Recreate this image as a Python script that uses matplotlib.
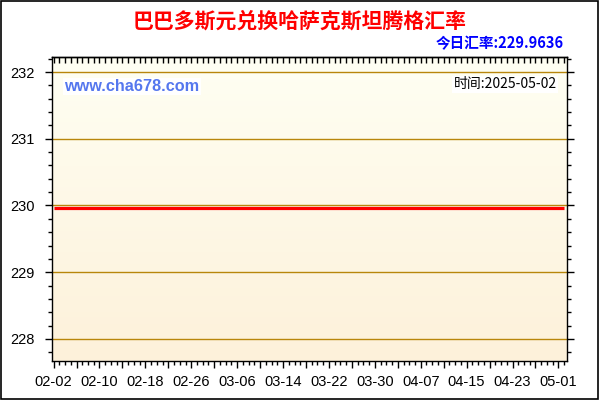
import numpy as np
import pandas as pd
import matplotlib
matplotlib.use('Agg')
import matplotlib.pyplot as plt
import matplotlib.dates as mdates
from matplotlib.colors import LinearSegmentedColormap
from matplotlib.patches import Rectangle

plt.rcParams['font.family'] = ['Noto Sans CJK SC', 'DejaVu Sans']

# Dados da série (taxa praticamente constante no período)
datas = ['2025-02-02', '2025-02-10', '2025-02-18', '2025-02-26', '2025-03-06',
         '2025-03-14', '2025-03-22', '2025-03-30', '2025-04-07', '2025-04-15',
         '2025-04-23', '2025-05-01', '2025-05-02']
taxas = [229.9636, 229.9636, 229.9636, 229.9636, 229.9636,
         229.9636, 229.9636, 229.9636, 229.9636, 229.9636,
         229.9636, 229.9636, 229.9636]
titulo = '巴巴多斯元兑换哈萨克斯坦腾格汇率'
taxa_hoje = '今日汇率:229.9636'
data_hoje = '时间:2025-05-02'
site = 'www.cha678.com'
y_ticks = [228, 229, 230, 231, 232]

x = pd.to_datetime(datas)

fig = plt.figure(figsize=(6, 4), dpi=100)
ax = fig.add_axes([0.086, 0.0975, 0.859, 0.76])

x0 = mdates.date2num(pd.Timestamp('2025-02-02')) - 0.35
x1 = mdates.date2num(pd.Timestamp('2025-05-02')) + 0.5
y0, y1 = 227.67, 232.225

# Fundo em degradê
cmap = LinearSegmentedColormap.from_list('fundo', ['#FDF1DA', '#FFFFF3'])
grad = np.linspace(0, 1, 256).reshape(-1, 1)
ax.imshow(grad, extent=[x0, x1, y0, y1], origin='lower', aspect='auto',
          cmap=cmap, zorder=0)

for yv in y_ticks:
    ax.axhline(yv, color='#B8860B', lw=1, zorder=1)

ax.plot(mdates.date2num(x), taxas, color='#FF0000', lw=2.3, zorder=3,
        solid_capstyle='butt')
ax.set_xlim(x0, x1)
ax.set_ylim(y0, y1)

# Eixo x: ticks diários, maiores a cada 4 dias, rótulos a cada 8
ticks_maiores = pd.date_range('2025-02-02', '2025-05-02', freq='4D')
ticks_dias = pd.date_range('2025-02-02', '2025-05-02', freq='D')
ax.set_xticks(mdates.date2num(ticks_maiores))
ax.set_xticklabels([d.strftime('%m-%d') if i % 2 == 0 else ''
                    for i, d in enumerate(ticks_maiores)])
ax.set_xticks(mdates.date2num(ticks_dias), minor=True)
ax.set_yticks(y_ticks)
ax.set_yticks(np.arange(227.8, 232.21, 0.2), minor=True)

ax.tick_params(axis='both', which='major', length=5, width=1, labelsize=10.5,
               colors='black', direction='out')
ax.tick_params(axis='both', which='minor', length=3, width=1, direction='out')
ax.tick_params(axis='y', which='both', right=True)
ax.tick_params(axis='x', which='both', top=False)
ax.tick_params(axis='x', pad=5)
ax.tick_params(axis='y', pad=7)
for lab in ax.get_xticklabels() + ax.get_yticklabels():
    lab.set_family(['Liberation Sans'])

# ticks de cima, para dentro
topo = ax.secondary_xaxis('top')
topo.set_xticks(mdates.date2num(ticks_dias))
topo.tick_params(direction='in', length=4, width=1, labeltop=False)
topo.spines['top'].set_linewidth(1)

for s in ax.spines.values():
    s.set_color('black')
    s.set_linewidth(1)

# Textos
fig.text(0.5, 0.948, titulo, color='#FF0000', fontsize=15, fontweight='bold',
         ha='center', va='center')
fig.text(0.94, 0.893, taxa_hoje, color='#0000FF', fontsize=10.5, fontweight='bold',
         ha='right', va='center')
ax.text(0.025, 0.903, site, transform=ax.transAxes, color='#5577EE', fontsize=11.7,
        fontweight='bold', family=['Liberation Sans'], ha='left', va='center',
        bbox=dict(facecolor='white', edgecolor='none', pad=1), zorder=5)
ax.text(0.98, 0.91, data_hoje, transform=ax.transAxes, color='black', fontsize=10,
        ha='right', va='center',
        bbox=dict(facecolor='white', edgecolor='none', pad=1), zorder=5)

# Moldura da figura
fig.patches.append(Rectangle((0.001, 0.002), 0.995, 0.996, transform=fig.transFigure,
                             fill=False, edgecolor='black', lw=1.2))

fig.savefig('out.png', dpi=100, facecolor='white')
